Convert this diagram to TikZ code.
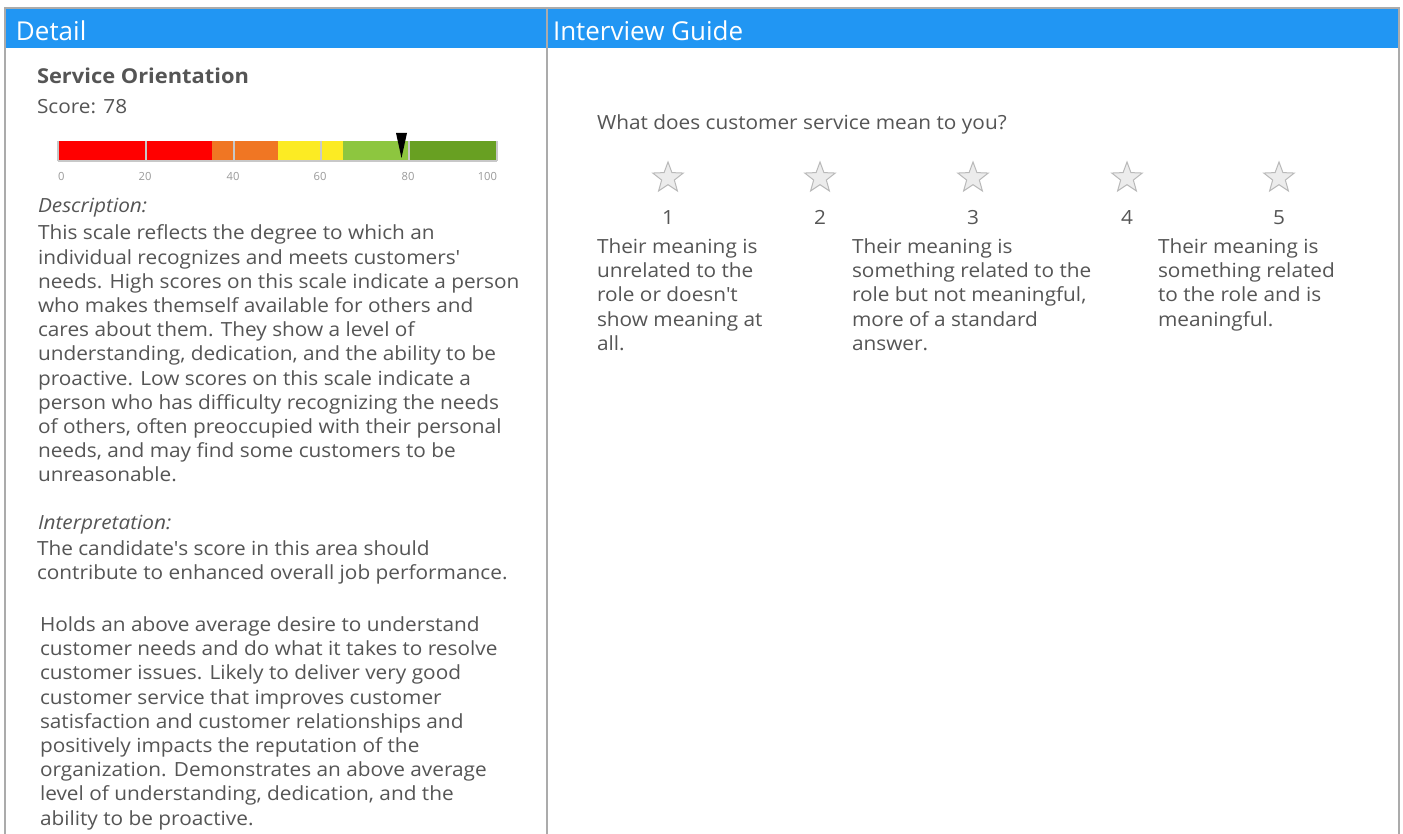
\documentclass[tikz,border=0pt]{standalone}
\usepackage{fontspec}
\setmainfont[FakeStretch=1.067]{Open Sans}
\newfontfamily\hdrfont{Open Sans}
\usetikzlibrary{shapes.geometric}
\definecolor{hdr}{HTML}{2196F3}
\definecolor{txt}{HTML}{555555}
\definecolor{brd}{HTML}{ABABAB}
\definecolor{cred}{HTML}{FF0000}
\definecolor{corange}{HTML}{F07623}
\definecolor{cyellow}{HTML}{FCEB23}
\definecolor{clgreen}{HTML}{8DC63F}
\definecolor{cdgreen}{HTML}{68A022}
\definecolor{tickgray}{HTML}{C8C8C8}
\definecolor{lblgray}{HTML}{9A9A9A}
\newcommand\apos{\textquotesingle}
\tikzset{
  base/.style={inner sep=0pt, outer sep=0pt, text=txt},
  hdrtext/.style={base, anchor=base west, text=white, font=\hdrfont\fontsize{26}{30}\selectfont},
  para/.style={base, anchor=north west, align=left, font=\fontsize{19.5}{24.2}\selectfont},
  line/.style={base, anchor=base west, font=\fontsize{19.5}{24.2}\selectfont},
  ticklbl/.style={base, anchor=base, text=lblgray, font=\hdrfont\fontsize{11.2}{13}\selectfont},
  starshape/.style={star, star points=5, star point ratio=2.4, minimum size=32pt, draw=gray!55, fill=gray!15, line width=1pt},
  num/.style={base, anchor=base, font=\fontsize{19.5}{24.2}\selectfont}
}
\begin{document}
\begin{tikzpicture}[x=1pt,y=-1pt]
\useasboundingbox (0,0) rectangle (1403,834);
\fill[white] (0,0) rectangle (1403,834);
% header band
\fill[hdr] (5,8) rectangle (1399,48);
\draw[brd, line width=2pt] (5,834) -- (5,8) -- (1399,8) -- (1399,834);
\draw[brd, line width=2pt] (547,8) -- (547,834);
\node[hdrtext] (hdetail) at (16,41) {Detail};
\node[hdrtext] (hguide) at (553,41) {Interview Guide};
% left column
\node[line, font=\fontsize{20.5}{24.2}\selectfont\bfseries] (title) at (37,83.5) {Service Orientation};
\node[line] (score) at (37,114) {Score: 78};
% scale bar
\fill[cred] (58,141) rectangle (212,161);
\fill[corange] (212,141) rectangle (278,161);
\fill[cyellow] (278,141) rectangle (343,161);
\fill[clgreen] (343,141) rectangle (409,161);
\fill[cdgreen] (409,141) rectangle (497,161);
\foreach \t in {58,146,234,321,409,497} \draw[tickgray, line width=1.5pt] (\t,141) -- (\t,161);
\draw[tickgray, line width=2pt] (58,161) -- (497,161);
\fill[black] (396,133) -- (407,133) -- (401.5,158) -- cycle;
\node[ticklbl, anchor=base west] (l0) at (58,181) {0};
\node[ticklbl] (l20) at (145,181) {20};
\node[ticklbl] (l40) at (233,181) {40};
\node[ticklbl] (l60) at (320,181) {60};
\node[ticklbl] (l80) at (408,181) {80};
\node[ticklbl, anchor=base east] (l100) at (497,181) {100};
\node[line, font=\fontsize{19.5}{24.2}\selectfont\itshape] (desc) at (38,213) {Description:};
\node[para] (desctext) at (38,223) {\strut This scale reflects the degree to which an\\
individual recognizes and meets customers\apos\\
needs. High scores on this scale indicate a person\\
who makes themself available for others and\\
cares about them. They show a level of\\
understanding, dedication, and the ability to be\\
proactive. Low scores on this scale indicate a\\
person who has difficulty recognizing the needs\\
of others, often preoccupied with their personal\\
needs, and may find some customers to be\\
unreasonable.};
\node[line, font=\fontsize{19.5}{24.2}\selectfont\itshape] (interp) at (38,529) {Interpretation:};
\node[para] (interptext) at (37,538.5) {\strut The candidate\apos s score in this area should\\
contribute to enhanced overall job performance.};
\node[para] (holds) at (40,614.5) {\strut Holds an above average desire to understand\\
customer needs and do what it takes to resolve\\
customer issues. Likely to deliver very good\\
customer service that improves customer\\
satisfaction and customer relationships and\\
positively impacts the reputation of the\\
organization. Demonstrates an above average\\
level of understanding, dedication, and the\\
ability to be proactive.};
% right column
\node[line] (question) at (597,130) {What does customer service mean to you?};
\foreach \i/\x in {1/668,2/820,3/973,4/1127,5/1279} {
  \node[starshape] (s\i) at (\x,178) {};
  \node[num] (n\i) at (\x,225) {\i};
}
\node[para] (c1) at (597,236.5) {\strut Their meaning is\\
unrelated to the\\
role or doesn\apos t\\
show meaning at\\
all.};
\node[para] (c3) at (852,236.5) {\strut Their meaning is\\
something related to the\\
role but not meaningful,\\
more of a standard\\
answer.};
\node[para] (c5) at (1158,236.5) {\strut Their meaning is\\
something related\\
to the role and is\\
meaningful.};
\end{tikzpicture}
\end{document}
